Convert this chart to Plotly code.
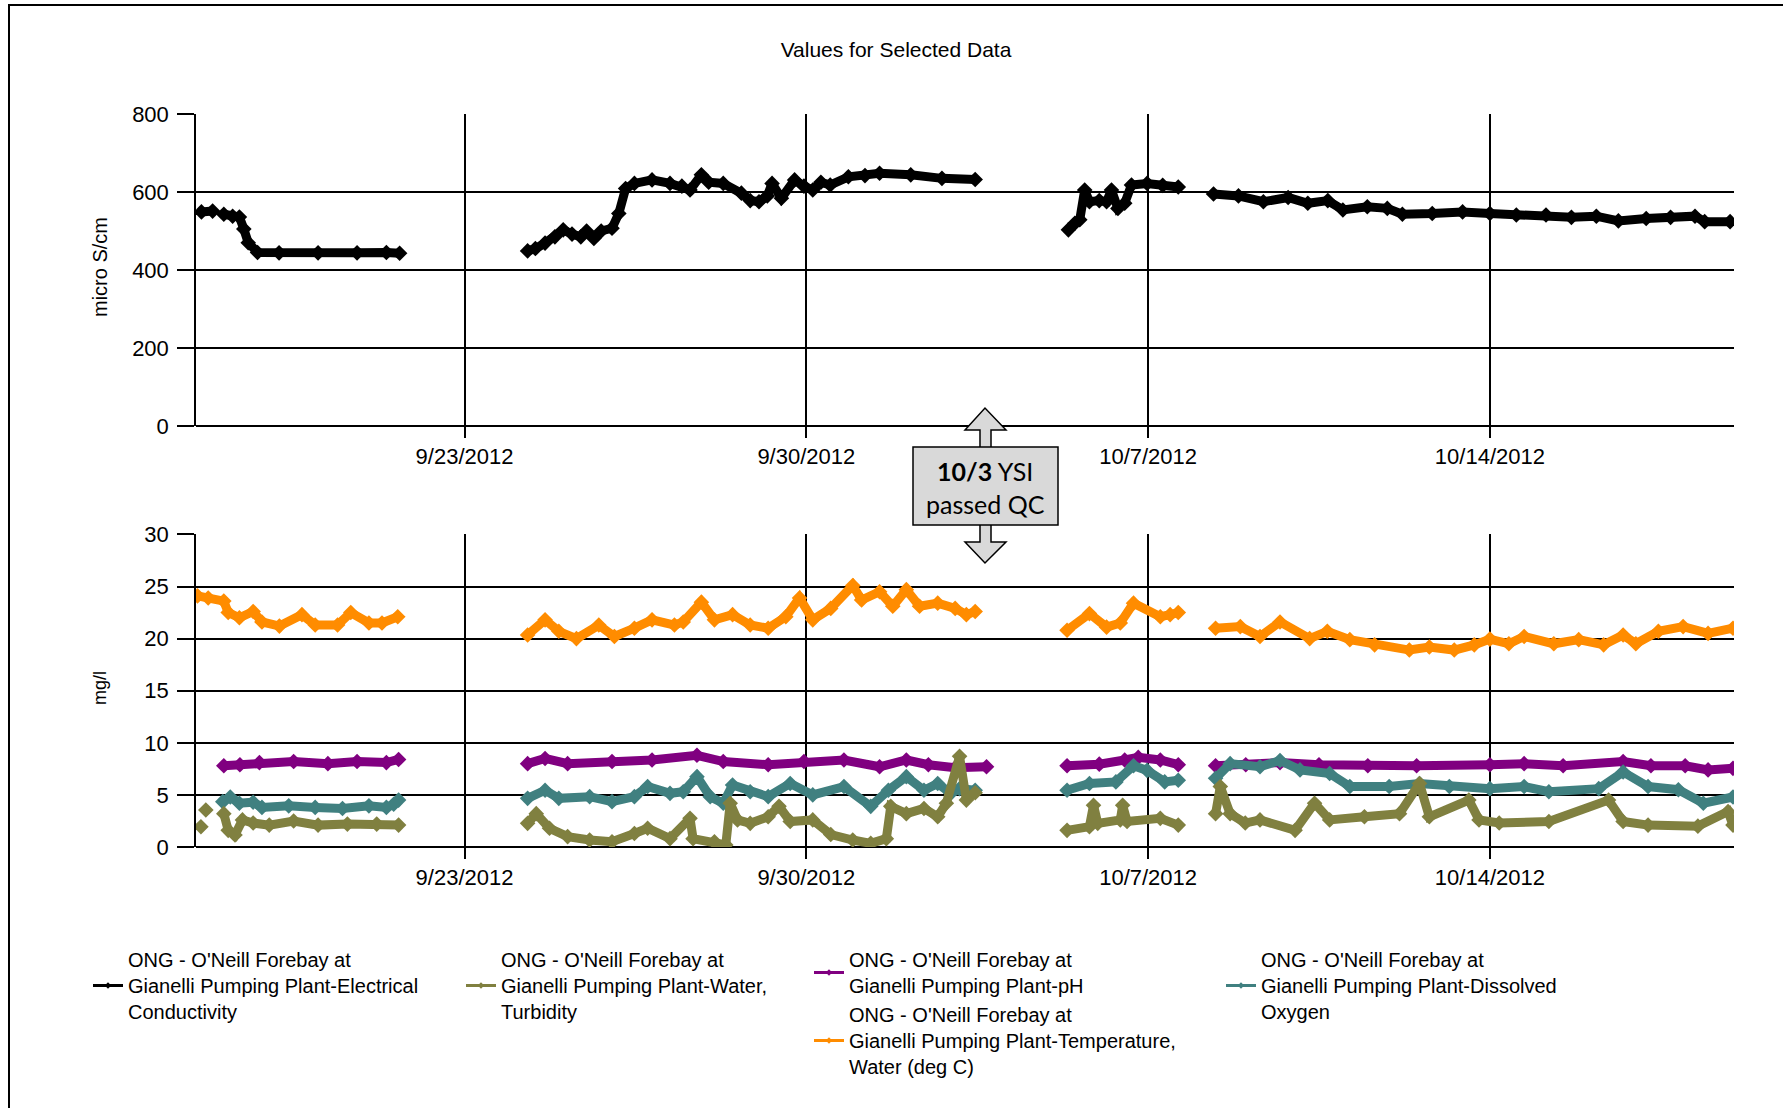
import plotly.graph_objects as go

# ---------------- data ----------------
GAP = (None, None)

EC = [
    ("2012-09-17 14:40", 549), ("2012-09-17 20:10", 551), GAP,
    ("2012-09-18 01:40", 543), ("2012-09-18 06:00", 538), ("2012-09-18 09:20", 536), ("2012-09-18 11:30", 505),
    ("2012-09-18 13:40", 470), ("2012-09-18 18:15", 445), ("2012-09-19 04:50", 444), ("2012-09-20 00:00", 444),
    ("2012-09-20 19:10", 444), ("2012-09-21 09:35", 445), ("2012-09-21 16:05", 443), GAP,
    ("2012-09-24 07:00", 449), ("2012-09-24 10:50", 455), ("2012-09-24 15:35", 469), ("2012-09-24 20:25", 485),
    ("2012-09-25 00:30", 503), ("2012-09-25 04:50", 492), ("2012-09-25 09:10", 485), ("2012-09-25 12:00", 500),
    ("2012-09-25 15:35", 481), ("2012-09-25 19:10", 500), ("2012-09-26 00:30", 507), ("2012-09-26 03:50", 545),
    ("2012-09-26 07:10", 609), ("2012-09-26 11:30", 622), ("2012-09-26 20:10", 631), ("2012-09-27 05:00", 622),
    ("2012-09-27 10:50", 615), ("2012-09-27 14:50", 605), ("2012-09-27 20:25", 644), ("2012-09-28 00:00", 625),
    ("2012-09-28 07:10", 622), ("2012-09-28 16:05", 597), ("2012-09-28 20:25", 578), ("2012-09-29 00:45", 575),
    ("2012-09-29 04:50", 590), ("2012-09-29 07:10", 622), ("2012-09-29 11:45", 584), ("2012-09-29 18:15", 631),
    ("2012-09-29 22:50", 615), ("2012-09-30 03:10", 605), ("2012-09-30 07:10", 625), ("2012-09-30 11:45", 618),
    ("2012-09-30 20:40", 639), ("2012-10-01 04:50", 642), ("2012-10-01 12:00", 648), ("2012-10-02 03:20", 644),
    ("2012-10-02 18:40", 635), ("2012-10-03 11:00", 632), GAP,
    ("2012-10-05 08:50", 503), ("2012-10-05 12:00", 520), ("2012-10-05 14:25", 529), ("2012-10-05 16:50", 605),
    ("2012-10-05 19:10", 575), ("2012-10-06 00:00", 578), ("2012-10-06 03:35", 575), ("2012-10-06 06:00", 605),
    ("2012-10-06 09:10", 558), ("2012-10-06 12:30", 571), ("2012-10-06 15:50", 618), ("2012-10-06 23:30", 622),
    ("2012-10-07 07:10", 617), ("2012-10-07 14:50", 613), GAP,
    ("2012-10-08 08:10", 595), ("2012-10-08 20:25", 590), ("2012-10-09 08:40", 575), ("2012-10-09 20:50", 586),
    ("2012-10-10 06:30", 571), ("2012-10-10 16:20", 578), ("2012-10-10 23:45", 554), ("2012-10-11 11:45", 562),
    ("2012-10-11 21:35", 558), ("2012-10-12 05:00", 543), ("2012-10-12 19:40", 545), ("2012-10-13 10:35", 549),
    ("2012-10-14 00:00", 545), ("2012-10-14 13:00", 541), ("2012-10-15 03:35", 541), ("2012-10-15 16:05", 535),
    ("2012-10-16 04:20", 538), ("2012-10-16 15:10", 526), ("2012-10-17 04:50", 532), ("2012-10-17 16:50", 535),
    ("2012-10-18 04:50", 538), ("2012-10-18 09:35", 524), ("2012-10-18 22:05", 524),
]

TEMPERATURE = [
    ("2012-09-17 12:45", 24.1), ("2012-09-17 18:00", 23.9), ("2012-09-18 01:40", 23.6), ("2012-09-18 03:50", 22.5),
    ("2012-09-18 09:20", 22.0), ("2012-09-18 16:05", 22.6), ("2012-09-18 20:25", 21.6), ("2012-09-19 05:00", 21.2),
    ("2012-09-19 16:05", 22.3), ("2012-09-19 22:35", 21.3), ("2012-09-20 09:35", 21.3), ("2012-09-20 16:05", 22.5),
    ("2012-09-21 01:00", 21.5), ("2012-09-21 07:25", 21.5), ("2012-09-21 15:10", 22.1), GAP,
    ("2012-09-24 07:00", 20.35), ("2012-09-24 15:35", 21.8), ("2012-09-24 22:20", 20.7), ("2012-09-25 07:00", 20.0),
    ("2012-09-25 18:00", 21.3), ("2012-09-26 01:40", 20.2), ("2012-09-26 11:30", 21.0), ("2012-09-26 20:10", 21.8),
    ("2012-09-27 07:10", 21.3), ("2012-09-27 11:30", 21.6), ("2012-09-27 20:25", 23.5), ("2012-09-28 02:50", 21.8),
    ("2012-09-28 11:45", 22.3), ("2012-09-28 20:25", 21.3), ("2012-09-29 05:15", 21.0), ("2012-09-29 13:55", 22.1),
    ("2012-09-29 20:40", 23.9), ("2012-09-30 03:10", 21.8), ("2012-09-30 12:00", 22.9), ("2012-09-30 22:50", 25.1),
    ("2012-10-01 03:10", 23.7), ("2012-10-01 12:00", 24.5), ("2012-10-01 18:30", 23.1), ("2012-10-02 01:10", 24.7),
    ("2012-10-02 07:40", 23.1), ("2012-10-02 16:35", 23.4), ("2012-10-03 01:10", 22.9), ("2012-10-03 06:40", 22.3),
    ("2012-10-03 11:00", 22.6), GAP,
    ("2012-10-05 08:10", 20.8), ("2012-10-05 19:10", 22.4), ("2012-10-06 03:35", 21.1), ("2012-10-06 10:20", 21.5),
    ("2012-10-06 16:50", 23.4), ("2012-10-07 06:00", 22.1), ("2012-10-07 10:50", 22.3), ("2012-10-07 14:50", 22.5), GAP,
    ("2012-10-08 09:10", 21.0), ("2012-10-08 21:20", 21.15), ("2012-10-09 07:00", 20.2), ("2012-10-09 16:50", 21.6),
    ("2012-10-10 07:25", 20.0), ("2012-10-10 16:05", 20.7), ("2012-10-11 03:10", 19.9), ("2012-10-11 15:20", 19.4),
    ("2012-10-12 08:25", 18.9), ("2012-10-12 18:15", 19.2), ("2012-10-13 06:30", 18.9), ("2012-10-13 16:20", 19.4),
    ("2012-10-14 00:00", 19.95), ("2012-10-14 09:20", 19.5), ("2012-10-14 16:50", 20.2), ("2012-10-15 07:25", 19.5),
    ("2012-10-15 19:40", 19.9), ("2012-10-16 07:55", 19.4), ("2012-10-16 17:30", 20.35), ("2012-10-16 23:45", 19.5),
    ("2012-10-17 10:50", 20.7), ("2012-10-17 23:00", 21.15), ("2012-10-18 11:15", 20.5), ("2012-10-18 23:30", 21.0),
]

PH = [
    ("2012-09-18 01:40", 7.8), ("2012-09-18 09:35", 7.9), ("2012-09-18 19:10", 8.1), ("2012-09-19 12:00", 8.2),
    ("2012-09-20 04:50", 8.0), ("2012-09-20 19:10", 8.2), ("2012-09-21 09:35", 8.1), ("2012-09-21 15:35", 8.4), GAP,
    ("2012-09-24 07:00", 8.0), ("2012-09-24 15:35", 8.5), ("2012-09-25 02:40", 8.0), ("2012-09-26 00:30", 8.2),
    ("2012-09-26 20:10", 8.35), ("2012-09-27 18:15", 8.8), ("2012-09-28 07:10", 8.2), ("2012-09-29 05:15", 7.9),
    ("2012-09-29 22:50", 8.2), ("2012-09-30 18:30", 8.35), ("2012-10-01 12:00", 7.7), ("2012-10-02 01:10", 8.35),
    ("2012-10-02 12:00", 7.9), ("2012-10-03 01:10", 7.6), ("2012-10-03 16:35", 7.7), GAP,
    ("2012-10-05 08:10", 7.8), ("2012-10-06 00:00", 7.95), ("2012-10-06 12:30", 8.35), ("2012-10-06 19:10", 8.6),
    ("2012-10-07 06:00", 8.35), ("2012-10-07 14:50", 7.9), GAP,
    ("2012-10-08 09:10", 7.8), ("2012-10-09 00:00", 7.9), ("2012-10-09 16:50", 8.1), ("2012-10-10 12:00", 7.9),
    ("2012-10-11 12:00", 7.8), ("2012-10-12 12:00", 7.8), ("2012-10-14 00:00", 7.9), ("2012-10-14 16:50", 8.0),
    ("2012-10-15 12:00", 7.8), ("2012-10-16 17:30", 8.2), ("2012-10-17 07:10", 7.8), ("2012-10-18 00:00", 7.8),
    ("2012-10-18 11:15", 7.4), ("2012-10-18 23:30", 7.55),
]

DISSOLVED_OXYGEN = [
    ("2012-09-18 01:10", 4.35), ("2012-09-18 04:50", 4.8), ("2012-09-18 09:20", 4.2), ("2012-09-18 16:05", 4.3),
    ("2012-09-18 20:25", 3.8), ("2012-09-19 09:35", 3.95), ("2012-09-19 22:35", 3.8), ("2012-09-20 12:00", 3.7),
    ("2012-09-21 01:00", 3.95), ("2012-09-21 09:35", 3.8), ("2012-09-21 13:10", 4.1), ("2012-09-21 15:35", 4.5), GAP,
    ("2012-09-24 07:00", 4.67), ("2012-09-24 15:35", 5.45), ("2012-09-24 22:20", 4.67), ("2012-09-25 13:30", 4.83),
    ("2012-09-26 00:30", 4.35), ("2012-09-26 11:30", 4.83), ("2012-09-26 18:00", 5.8), ("2012-09-27 05:00", 5.15),
    ("2012-09-27 11:30", 5.3), ("2012-09-27 18:15", 6.75), ("2012-09-28 00:45", 4.83), ("2012-09-28 07:10", 4.2),
    ("2012-09-28 11:45", 5.95), ("2012-09-28 20:25", 5.3), ("2012-09-29 05:15", 4.83), ("2012-09-29 16:05", 6.1),
    ("2012-09-30 03:10", 5.0), ("2012-09-30 18:30", 5.8), ("2012-10-01 07:40", 3.9), ("2012-10-01 16:20", 5.45),
    ("2012-10-02 01:10", 6.75), ("2012-10-02 09:50", 5.45), ("2012-10-02 16:35", 6.1), ("2012-10-02 23:00", 5.15),
    ("2012-10-03 03:20", 5.6), ("2012-10-03 11:00", 5.45), GAP,
    ("2012-10-05 08:10", 5.45), ("2012-10-05 19:10", 6.1), ("2012-10-06 08:10", 6.25), ("2012-10-06 16:50", 7.8),
    ("2012-10-06 23:30", 7.35), ("2012-10-07 08:10", 6.25), ("2012-10-07 14:50", 6.4), GAP,
    ("2012-10-08 09:10", 6.6), ("2012-10-08 16:20", 8.0), ("2012-10-09 07:00", 7.7), ("2012-10-09 16:50", 8.3),
    ("2012-10-10 02:40", 7.4), ("2012-10-10 17:15", 7.05), ("2012-10-11 03:10", 5.8), ("2012-10-11 22:30", 5.8),
    ("2012-10-12 13:25", 6.1), ("2012-10-13 04:05", 5.8), ("2012-10-14 00:00", 5.6), ("2012-10-14 16:50", 5.8),
    ("2012-10-15 05:00", 5.3), ("2012-10-16 05:30", 5.6), ("2012-10-16 17:30", 7.2), ("2012-10-17 05:45", 5.8),
    ("2012-10-17 20:40", 5.5), ("2012-10-18 08:55", 4.2), ("2012-10-18 23:30", 4.8),
]

TURBIDITY = [
    ("2012-09-17 14:25", 1.95), GAP, ("2012-09-17 16:50", 3.55), GAP,
    ("2012-09-18 01:40", 3.2), ("2012-09-18 03:50", 1.6), ("2012-09-18 07:10", 1.15), ("2012-09-18 10:50", 2.6),
    ("2012-09-18 16:05", 2.3), ("2012-09-19 00:00", 2.1), ("2012-09-19 12:00", 2.5), ("2012-09-20 00:00", 2.1),
    ("2012-09-20 14:25", 2.2), ("2012-09-21 04:50", 2.2), ("2012-09-21 15:35", 2.1), GAP,
    ("2012-09-24 07:00", 2.27), ("2012-09-24 11:15", 3.2), ("2012-09-24 17:45", 1.8), ("2012-09-25 02:40", 1.0),
    ("2012-09-25 13:30", 0.67), ("2012-09-26 00:30", 0.5), ("2012-09-26 11:30", 1.3), ("2012-09-26 18:00", 1.8),
    ("2012-09-27 05:00", 0.8), ("2012-09-27 14:50", 2.75), ("2012-09-27 16:20", 0.8), ("2012-09-28 02:50", 0.5),
    ("2012-09-28 08:25", 0.2), ("2012-09-28 10:35", 4.2), ("2012-09-28 14:10", 2.6), ("2012-09-28 20:25", 2.27),
    ("2012-09-29 05:15", 2.9), ("2012-09-29 10:35", 3.9), ("2012-09-29 16:05", 2.45), ("2012-09-30 03:10", 2.6),
    ("2012-09-30 12:00", 1.2), ("2012-09-30 22:50", 0.67), ("2012-10-01 07:40", 0.35), ("2012-10-01 15:20", 0.8),
    ("2012-10-01 17:30", 3.9), ("2012-10-02 01:10", 3.2), ("2012-10-02 09:50", 3.7), ("2012-10-02 16:35", 2.9),
    ("2012-10-02 20:50", 4.2), ("2012-10-03 03:20", 8.7), ("2012-10-03 06:40", 4.5), ("2012-10-03 11:00", 5.2), GAP,
    ("2012-10-05 08:10", 1.6), ("2012-10-05 19:10", 1.95), ("2012-10-05 21:10", 4.0), ("2012-10-05 23:15", 2.27),
    ("2012-10-06 10:20", 2.6), ("2012-10-06 11:30", 4.0), ("2012-10-06 13:40", 2.45), ("2012-10-07 06:00", 2.75),
    ("2012-10-07 14:50", 2.1), GAP,
    ("2012-10-08 09:10", 3.2), ("2012-10-08 11:30", 5.8), ("2012-10-08 16:20", 3.2), ("2012-10-08 23:45", 2.3),
    ("2012-10-09 07:00", 2.6), ("2012-10-10 00:15", 1.6), ("2012-10-10 09:50", 4.2), ("2012-10-10 17:15", 2.6),
    ("2012-10-11 10:20", 2.9), ("2012-10-12 03:35", 3.2), ("2012-10-12 13:25", 6.1), ("2012-10-12 18:15", 2.9),
    ("2012-10-13 13:40", 4.5), ("2012-10-13 18:40", 2.6), ("2012-10-14 04:35", 2.3), ("2012-10-15 05:00", 2.45),
    ("2012-10-16 10:20", 4.5), ("2012-10-16 17:30", 2.45), ("2012-10-17 05:45", 2.1), ("2012-10-18 06:15", 2.0),
    ("2012-10-18 21:05", 3.4), ("2012-10-18 23:30", 2.1),
]

X_RANGE = ["2012-09-17 12:00", "2012-10-19 00:00"]
X_TICKVALS = ["2012-09-23", "2012-09-30", "2012-10-07", "2012-10-14"]
X_TICKTEXT = ["9/23/2012", "9/30/2012", "10/7/2012", "10/14/2012"]
EC_TICKS = [0, 200, 400, 600, 800]
MG_TICKS = [0, 5, 10, 15, 20, 25, 30]

NAMES = {
    "ec": "ONG - O'Neill Forebay at<br>Gianelli Pumping Plant-Electrical<br>Conductivity",
    "turb": "ONG - O'Neill Forebay at<br>Gianelli Pumping Plant-Water,<br>Turbidity",
    "ph": "ONG - O'Neill Forebay at<br>Gianelli Pumping Plant-pH",
    "temp": "ONG - O'Neill Forebay at<br>Gianelli Pumping Plant-Temperature,<br>Water (deg C)",
    "do": "ONG - O'Neill Forebay at<br>Gianelli Pumping Plant-Dissolved<br>Oxygen",
}
COLORS = {"ec": "#000000", "turb": "#808040", "ph": "#800080", "temp": "#FF8C00", "do": "#408080"}

# ---------------- layout geometry (pixels) ----------------
W, H = 1783, 1108
L, R, T, B = 196, 1734, 114, 847          # plot area
TOP_BOTTOM_PX = 426                        # bottom of upper panel
LOW_TOP_PX = 534.4                         # top of lower panel


def px(x):
    return (x - L) / (R - L)


def py(y):
    return (B - y) / (B - T)


FONT = "Liberation Sans, Arial, sans-serif"

fig = go.Figure()


def add_series(data, key, yaxis):
    xs = [d[0] for d in data]
    ys = [d[1] for d in data]
    fig.add_trace(go.Scatter(
        x=xs, y=ys, mode="lines+markers", xaxis="x" if yaxis == "y" else "x2", yaxis=yaxis,
        line=dict(color=COLORS[key], width=9), marker=dict(symbol="diamond", size=12, color=COLORS[key]),
        showlegend=False, connectgaps=False, hoverinfo="x+y"))


add_series(EC, "ec", "y")
add_series(PH, "ph", "y2")
add_series(DISSOLVED_OXYGEN, "do", "y2")
add_series(TURBIDITY, "turb", "y2")
add_series(TEMPERATURE, "temp", "y2")

# legend entries
for key, leg in [("ec", "legend"), ("turb", "legend2"), ("ph", "legend3"), ("temp", "legend3"), ("do", "legend4")]:
    fig.add_trace(go.Scatter(
        x=[None], y=[None], mode="lines+markers", name=NAMES[key], legend=leg,
        line=dict(color=COLORS[key], width=3), marker=dict(symbol="diamond", size=5, color=COLORS[key]),
        xaxis="x2", yaxis="y2"))

axis_common = dict(
    showgrid=True, gridcolor="#000000", gridwidth=1.5,
    ticks="outside", tickcolor="#000000", tickwidth=1.5,
    tickfont=dict(family=FONT, size=22, color="#000000"),
)

legend_common = dict(
    orientation="v", yanchor="top", xanchor="left", bgcolor="rgba(0,0,0,0)",
    font=dict(family=FONT, size=20, color="#000000"), tracegroupgap=0, itemwidth=30,
)
LEG_Y = py(940)

shape_style = dict(xref="paper", yref="paper", line=dict(color="#000000", width=1.5), fillcolor="#D9D9D9")


def path(points):
    return "M " + " L ".join(f"{px(a):.5f},{py(b):.5f}" for a, b in points) + " Z"


up_arrow = [(980, 448), (980, 430), (965, 430), (985, 408), (1006, 430), (991, 430), (991, 448)]
down_arrow = [(980, 524), (980, 542), (965, 542), (985, 563), (1006, 542), (991, 542), (991, 524)]

fig.update_layout(
    width=W, height=H, autosize=False,
    margin=dict(l=L, r=W - R, t=T, b=H - B, pad=0),
    paper_bgcolor="#FFFFFF", plot_bgcolor="#FFFFFF",
    font=dict(family=FONT, color="#000000"),
    title=dict(text="Values for Selected Data", x=896 / W, xref="container", xanchor="center",
               y=1 - 50 / H, yref="container", yanchor="middle",
               font=dict(family=FONT, size=21, color="#000000")),
    xaxis=dict(domain=[0, 1], anchor="y", type="date", range=X_RANGE, tickmode="array",
               tickvals=X_TICKVALS, ticktext=X_TICKTEXT, ticklen=11, showline=False, **axis_common),
    xaxis2=dict(domain=[0, 1], anchor="y2", type="date", range=X_RANGE, tickmode="array",
                tickvals=X_TICKVALS, ticktext=X_TICKTEXT, ticklen=11, showline=False, matches="x", **axis_common),
    yaxis=dict(domain=[py(TOP_BOTTOM_PX), 1], anchor="x", range=[0, 800], tickmode="array", tickvals=EC_TICKS,
               ticklen=17, showline=True, linecolor="#000000", linewidth=1.5,
               zeroline=True, zerolinecolor="#000000", zerolinewidth=1.5, ticklabelstandoff=4, **axis_common),
    yaxis2=dict(domain=[0, py(LOW_TOP_PX)], anchor="x2", range=[0, 30], tickmode="array", tickvals=MG_TICKS,
                ticklen=17, showline=True, linecolor="#000000", linewidth=1.5,
                zeroline=True, zerolinecolor="#000000", zerolinewidth=1.5, ticklabelstandoff=4, **axis_common),
    legend=dict(x=px(88), y=LEG_Y, **legend_common),
    legend2=dict(x=px(461), y=LEG_Y, **legend_common),
    legend3=dict(x=px(809), y=LEG_Y, **legend_common),
    legend4=dict(x=px(1221), y=LEG_Y, **legend_common),
    annotations=[
        dict(text="micro S/cm", x=px(100), y=py(267), xref="paper", yref="paper", showarrow=False,
             xanchor="center", yanchor="middle",
             textangle=-90, font=dict(family=FONT, size=20, color="#000000")),
        dict(text="mg/l", x=px(100), y=py(688), xref="paper", yref="paper", showarrow=False,
             xanchor="center", yanchor="middle",
             textangle=-90, font=dict(family=FONT, size=18, color="#000000")),
        dict(text="<b>10/3</b> YSI<br>passed QC", x=px(985.5), y=py(488), xref="paper", yref="paper",
             showarrow=False, xanchor="center", yanchor="middle",
             font=dict(family="Lato, Open Sans, sans-serif", size=25, color="#000000")),
    ],
    shapes=[
        dict(type="rect", xref="paper", yref="paper", x0=px(9), x1=px(1800), y0=py(5), y1=py(1130),
             line=dict(color="#000000", width=2), fillcolor="rgba(0,0,0,0)", layer="below"),
        dict(type="path", path=path(up_arrow), **shape_style),
        dict(type="path", path=path(down_arrow), **shape_style),
        dict(type="rect", x0=px(913), x1=px(1058), y0=py(447), y1=py(525), **shape_style),
    ],
)

fig.write_html("out.html", config={"displayModeBar": False},
               post_script="document.body.style.margin='0';")
